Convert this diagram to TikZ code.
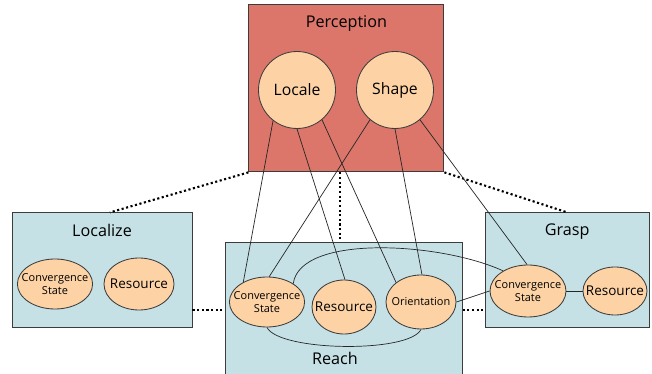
\documentclass[tikz,border=0pt]{standalone}
\usepackage{fontspec}
\setmainfont{Open Sans}
\usetikzlibrary{positioning,shapes.geometric}
\definecolor{percred}{RGB}{220,117,106}
\definecolor{skillblue}{RGB}{197,225,229}
\definecolor{peach}{RGB}{253,211,166}
\definecolor{edgegray}{RGB}{60,60,60}
\begin{document}
\begin{tikzpicture}[
  box/.style={rectangle,draw=edgegray,line width=0.7pt,inner sep=0},
  boxtitle/.style={font=\fontsize{11.5pt}{13pt}\selectfont},
  blob/.style={circle,draw=edgegray,fill=peach,line width=0.6pt,minimum size=1.925cm,inner sep=0,font=\fontsize{11.2pt}{13pt}\selectfont},
  oval/.style={ellipse,draw=edgegray,fill=peach,line width=0.6pt,inner xsep=-4mm,inner ysep=-2mm,align=center,font=\fontsize{7.8pt}{9pt}\selectfont},
  wire/.style={line width=0.5pt,draw=black!85},
  link/.style={line width=1.5pt,dash pattern=on 1.5pt off 1.8pt}
]
\clip (0, 0) rectangle (16.3, 9.35);
\fill [white] (0, 0) rectangle (16.3, 9.35);

% boxes
\node (perception) at (8.66, 7.14) [box,fill=percred,minimum width=4.875cm,minimum height=4.175cm] {};
\node (localize) at (2.55, 2.59) [box,fill=skillblue,minimum width=4.5cm,minimum height=2.875cm] {};
\node (reach) at (8.59, 1.3) [box,fill=skillblue,minimum width=5.925cm,minimum height=4cm] {};
\node (grasp) at (14.18, 2.59) [box,fill=skillblue,minimum width=4.1cm,minimum height=2.875cm] {};

\node (perctitle) [boxtitle,below=0.15cm of perception.north] {Perception};
\node (loctitle) [boxtitle,below=0.17cm of localize.north] {Localize};
\node (grasptitle) [boxtitle,below=0.17cm of grasp.north] {Grasp};
\node (reachtitle) at (8.375, 0.4) [boxtitle] {Reach};

% perception
\node (locale) at (7.425, 7.1) [blob] {Locale};
\node (shape) at (9.875, 7.1) [blob] {Shape};

% localize
\node (lcs) at (1.375, 2.25) [oval,minimum width=1.88cm,minimum height=1.25cm] {Convergence\\State};
\node (lres) at (3.475, 2.25) [oval,minimum width=1.75cm,minimum height=1.3cm,font=\fontsize{9.6pt}{11pt}\selectfont] {Resource};

% reach
\node (rcs) at (6.675, 1.8) [oval,minimum width=1.88cm,minimum height=1.25cm] {Convergence\\State};
\node (rres) at (8.6, 1.675) [oval,minimum width=1.6cm,minimum height=1.35cm,font=\fontsize{9.6pt}{11pt}\selectfont] {Resource};
\node (orient) at (10.525, 1.8) [oval,minimum width=1.75cm,minimum height=1.35cm] {Orientation};

% grasp
\node (gcs) at (13.2, 2.075) [oval,minimum width=1.9cm,minimum height=1.3cm] {Convergence\\State};
\node (gres) at (15.375, 2.075) [oval,minimum width=1.6cm,minimum height=1.2cm,font=\fontsize{9.6pt}{11pt}\selectfont] {Resource};

% dotted links between the boxes
\coordinate (lr) at ([yshift=0.45cm]localize.south east);
\coordinate (rg) at ([yshift=0.45cm]grasp.south west);
\draw [link] (perception.south west) -- ([xshift=0.2cm]localize.north);
\draw [link] (perception.south east) -- (grasp.north);
\draw [link] ([xshift=-0.15cm]perception.south) -- ([xshift=-0.15cm]perception.south |- reach.north);
\draw [link] (lr) -- (lr -| reach.west);
\draw [link] (rg -| reach.east) -- (rg);

% dependencies
\draw [wire] (locale.232) -- (rcs.140);
\draw [wire] (locale.270) -- (rres.88);
\draw [wire] (locale.310) -- (orient.142);
\draw [wire] (shape.230) -- (rcs.85);
\draw [wire] (shape.270) -- (orient.88);
\draw [wire] (shape.310) -- (gcs.92);
\draw [wire] (rcs.35) .. controls (7.5, 3.5) and (11, 3.3) .. (gcs.141);
\draw [wire] (rcs.south) .. controls +(0.3, -0.6) and +(-0.3, -0.6) .. (orient.south);
\draw [wire] (orient.east) -- (gcs.west);
\draw [wire] (gcs.east) -- (gres.west);
\end{tikzpicture}
\end{document}
